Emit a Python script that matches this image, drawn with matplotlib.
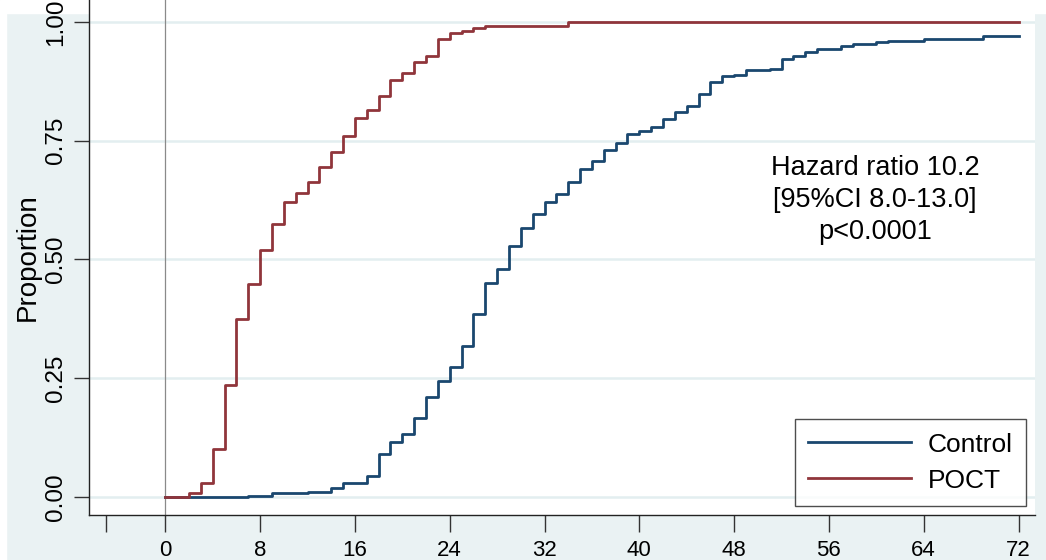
import numpy as np
import matplotlib
matplotlib.use("Agg")
import matplotlib.pyplot as plt
from matplotlib.patches import Rectangle

# cumulative proportion (hours)
poct_t = [0, 2, 3, 4, 5, 6, 7, 8, 9, 10, 11, 12, 13, 14, 15, 16, 17, 18, 19, 20,
          21, 22, 23, 24, 25, 26, 27, 34, 72]
poct_y = [0, 0.008, 0.029, 0.10, 0.236, 0.375, 0.448, 0.52, 0.574, 0.622, 0.64,
          0.664, 0.695, 0.726, 0.759, 0.797, 0.815, 0.844, 0.877, 0.892, 0.915,
          0.928, 0.964, 0.977, 0.980, 0.988, 0.992, 1.0, 1.0]

ctrl_t = [0, 7, 9, 12, 14, 15, 17, 18, 19, 20, 21, 22, 23, 24, 25, 26, 27, 28, 29,
          30, 31, 32, 33, 34, 35, 36, 37, 38, 39, 40, 41, 42, 43, 44, 45, 46, 47,
          48, 49, 51, 52, 53, 54, 55, 57, 58, 60, 61, 64, 69, 72]
ctrl_y = [0, 0.003, 0.008, 0.0105, 0.018, 0.029, 0.045, 0.09, 0.115, 0.133, 0.166,
          0.211, 0.244, 0.273, 0.317, 0.385, 0.45, 0.48, 0.529, 0.566, 0.595, 0.621,
          0.638, 0.663, 0.691, 0.707, 0.731, 0.745, 0.765, 0.771, 0.779, 0.795,
          0.81, 0.823, 0.848, 0.873, 0.886, 0.889, 0.899, 0.902, 0.923, 0.928,
          0.937, 0.943, 0.950, 0.953, 0.957, 0.959, 0.964, 0.970, 0.970]

xticks = [0, 8, 16, 24, 32, 40, 48, 56, 64, 72]
yticks = [0, 0.25, 0.5, 0.75, 1.0]
ytick_labels = ["0.00", "0.25", "0.50", "0.75", "1.00"]
annot = "Hazard ratio 10.2\n[95%CI 8.0-13.0]\np<0.0001"

bg = "#eaf2f3"
navy = "#1a476f"
maroon = "#90353b"

plt.rcParams['font.family'] = ['Liberation Sans', 'DejaVu Sans']

W, H = 1046, 560
fig = plt.figure(figsize=(W / 100, H / 100), dpi=100)
fig.patch.set_facecolor(bg)
# white strips left by the crop
fig.patches.append(Rectangle((0, 1 - 13 / H), 1, 13 / H, transform=fig.transFigure,
                             color="white", zorder=-5))
fig.patches.append(Rectangle((0, 0), 6 / W, 1, transform=fig.transFigure,
                             color="white", zorder=-5))

ax = fig.add_axes([89 / W, 45 / H, 946 / W, 515 / H])
ax.set_facecolor("white")

for y in yticks:
    ax.axhline(y, color="#e3eef0", lw=1.8, zorder=1)
ax.axvline(0, color="#8a8a8a", lw=0.9, zorder=1)

ax.plot(ctrl_t, ctrl_y, drawstyle="steps-post", color=navy, lw=2.0, label="Control", zorder=3)
ax.plot(poct_t, poct_y, drawstyle="steps-post", color=maroon, lw=2.0, label="POCT", zorder=4)

ax.set_xlim(-6.44, 73.39)
ax.set_ylim(-0.0379, 1.0463)

ax.set_xticks([-5] + xticks)
ax.set_xticklabels([""] + [str(v) for v in xticks])
ax.set_yticks(yticks)
ax.set_yticklabels(ytick_labels, rotation=90, va="center")

ax.tick_params(axis="x", length=12, width=1, color="#333333", labelsize=16, pad=6)
ax.tick_params(axis="y", length=11, width=1, color="#333333", labelsize=17.5, pad=5)
for s in ["top", "right"]:
    ax.spines[s].set_visible(False)
for s in ["left", "bottom"]:
    ax.spines[s].set_color("#222222")
    ax.spines[s].set_linewidth(1)

ax.set_ylabel("Proportion", fontsize=20, labelpad=3)

ax.text(59.9, 0.625, annot, ha="center", va="center", multialignment="center",
        fontsize=19.5, linespacing=1.3, zorder=5)

leg = ax.legend(loc="lower right", bbox_to_anchor=(0.9905, 0.018), borderaxespad=0,
                fontsize=19, frameon=True, fancybox=False, edgecolor="#222222",
                handlelength=3.9, handletextpad=0.65, labelspacing=0.45,
                borderpad=0.5)
leg.get_frame().set_linewidth(1)

fig.savefig("out.png", dpi=100, facecolor=fig.get_facecolor())
